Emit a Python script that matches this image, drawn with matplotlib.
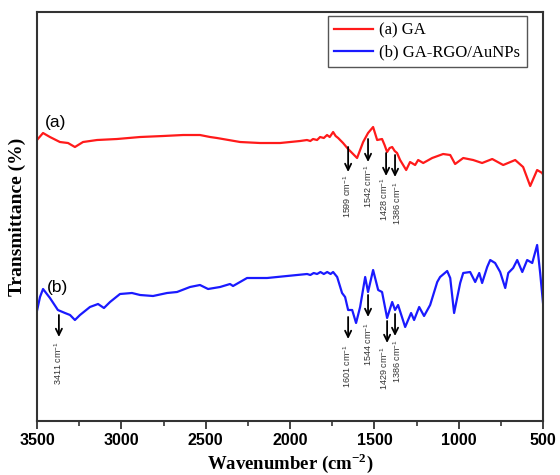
import matplotlib
matplotlib.use("Agg")
import matplotlib.pyplot as plt

# FTIR spectra (transmittance in arbitrary units)
wn_a = [3500, 3464, 3423, 3364, 3316, 3275, 3227, 3144, 3026, 2889, 2753, 2634,
        2534, 2474, 2433, 2296, 2178, 2059, 1941, 1900, 1880, 1864, 1840, 1822,
        1800, 1781, 1765, 1745, 1730, 1715, 1686, 1656, 1603, 1567, 1538, 1508,
        1484, 1455, 1440, 1425, 1410, 1395, 1380, 1366, 1348, 1312, 1289, 1259,
        1241, 1211, 1158, 1093, 1051, 1022, 974, 915, 862, 802, 737, 666, 619,
        577, 536, 506, 500]
t_a = [281, 288, 284, 279, 278, 274, 279, 281, 282, 284, 285, 286,
       286, 284, 283, 279, 278, 278, 280, 281, 280, 282, 281, 284,
       283, 286, 284, 289, 285, 283, 278, 272, 263, 279, 288, 294,
       281, 282, 276, 269, 273, 274, 270, 268, 261, 251, 259, 256,
       261, 258, 263, 267, 266, 257, 263, 261, 258, 262, 256, 261, 254,
       235, 251, 248, 246]

wn_b = [3500, 3482, 3464, 3423, 3376, 3334, 3304, 3275, 3245, 3186, 3138, 3103,
        3067, 3008, 2937, 2889, 2812, 2729, 2670, 2593, 2534, 2486, 2415, 2356,
        2338, 2255, 2136, 2018, 1899, 1880, 1860, 1840, 1820, 1800, 1780, 1760,
        1745, 1721, 1692, 1674, 1656, 1632, 1609, 1585, 1555, 1538, 1508, 1478,
        1455, 1425, 1395, 1378, 1360, 1318, 1283, 1265, 1235, 1206, 1170, 1128,
        1111, 1069, 1051, 1028, 992, 974, 933, 903, 879, 862, 832, 814, 785,
        755, 725, 707, 678, 654, 624, 595, 565, 536, 518, 500]
t_b = [110, 124, 132, 123, 111, 108, 106, 101, 106, 114, 117, 113,
       119, 127, 128, 126, 125, 128, 129, 134, 136, 132, 134, 137,
       135, 143, 143, 145, 147, 146, 148, 147, 149, 147, 149, 147,
       149, 144, 128, 124, 111, 111, 98, 114, 144, 129, 151, 131,
       129, 103, 119, 111, 116, 94, 108, 101, 114, 105, 116, 139,
       144, 150, 143, 108, 138, 148, 149, 139, 148, 138, 154, 161, 158,
       149, 133, 148, 153, 161, 149, 161, 158, 176, 148, 116]

# peak markers: label, arrow x, arrow start, arrow end, label x, label top
peaks_a = [("1599", 1656, 274, 249, 1660, 246),
           ("1542", 1538, 282, 259, 1538, 257),
           ("1428", 1431, 268, 245, 1443, 244),
           ("1386", 1378, 266, 244, 1366, 240)]
peaks_b = [("3411", 3370, 106, 84, 3372, 80),
           ("1601", 1656, 104, 82, 1660, 77),
           ("1544", 1538, 126, 104, 1538, 99),
           ("1429", 1425, 100, 78, 1443, 75),
           ("1386", 1378, 107, 85, 1366, 82)]

plt.rcParams["mathtext.fontset"] = "custom"
plt.rcParams["mathtext.bf"] = "Liberation Serif:bold"
plt.rcParams["mathtext.rm"] = "Liberation Serif"
plt.rcParams["mathtext.sf"] = "Liberation Sans"

fig = plt.figure(figsize=(5.6, 4.75), dpi=100)
ax = fig.add_axes([0.066, 0.1137, 0.904, 0.861])

ax.plot(wn_a, t_a, color="#ff1a1a", lw=1.6, label="(a) GA")
ax.plot(wn_b, t_b, color="#1a1aff", lw=1.6, label="(b) GA-RGO/AuNPs")

for lab, x, y0, y1, xl, ytop in peaks_a + peaks_b:
    ax.annotate("", xy=(x, y1), xytext=(x, y0),
                arrowprops=dict(arrowstyle="->,head_length=0.45,head_width=0.22",
                                lw=1.3, color="black", shrinkA=0, shrinkB=0))
    ax.text(xl, ytop, lab + r" cm$^{\mathsf{-1}}$", rotation=90, ha="center", va="top",
            fontsize=6.5, color="#333333", family="Liberation Sans")

ax.text(3453, 294, "(a)", fontsize=12.5, family="Liberation Sans", ha="left", va="baseline")
ax.text(3441, 129, "(b)", fontsize=12.5, family="Liberation Sans", ha="left", va="baseline")

ax.set_xlim(3500, 500)
ax.set_ylim(0, 409)
ax.set_xticks([3500, 3000, 2500, 2000, 1500, 1000, 500])
ax.set_xticks([3250, 2750, 2250, 1750, 1250, 750], minor=True)
ax.set_yticks([])
ax.tick_params(axis="x", which="major", direction="out", length=6, width=1.3,
               color="#333333", pad=3)
ax.tick_params(axis="x", which="minor", direction="out", length=3.5, width=1.2,
               color="#333333")
for t in ax.get_xticklabels():
    t.set_fontfamily("Liberation Sans")
    t.set_fontweight("bold")
    t.set_fontsize(11.5)
for s in ax.spines.values():
    s.set_linewidth(1.5)
    s.set_color("#333333")

ax.set_xlabel(r"Wavenumber (cm$^{\mathbf{-2}}$)", fontsize=13.5, fontweight="bold",
              family="Liberation Serif", labelpad=2)
ax.set_ylabel("Transmittance (%)", fontsize=14, fontweight="bold", family="Liberation Serif")
ax.yaxis.set_label_coords(-0.022, 0.5)

leg = ax.legend(loc="upper right", bbox_to_anchor=(0.968, 0.99), borderaxespad=0,
                prop={"family": "Liberation Serif", "size": 12}, handlelength=2.3,
                handletextpad=0.4, borderpad=0.4, labelspacing=0.35,
                fancybox=False, framealpha=1)
leg.get_frame().set_edgecolor("#555555")
leg.get_frame().set_linewidth(1.0)

fig.savefig("out.png", dpi=100)
